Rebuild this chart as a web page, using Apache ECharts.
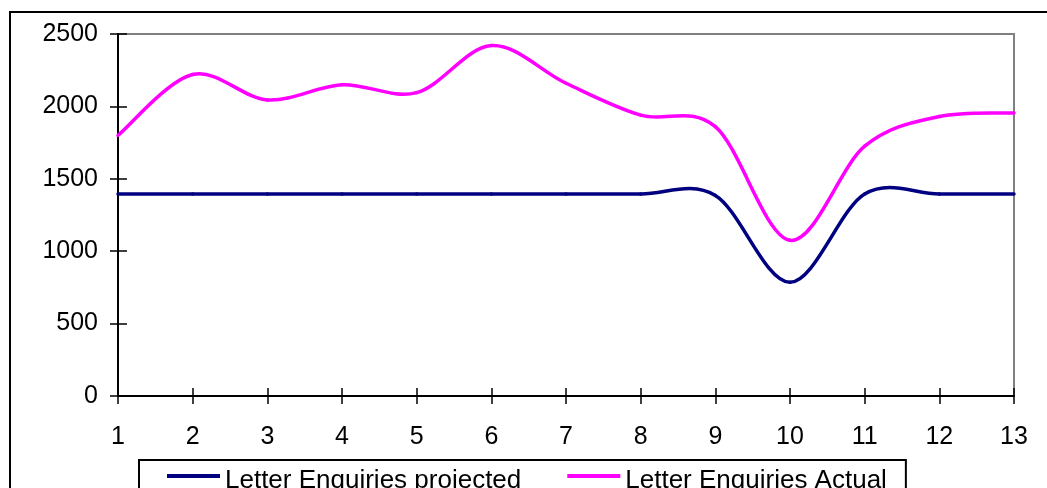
<!DOCTYPE html>
<html>
<head>
<meta charset="utf-8">
<script src="https://cdn.jsdelivr.net/npm/echarts@6/dist/echarts.min.js"></script>
<style>
    html, body { margin: 0; padding: 0; background: #fff; }
    #main { width: 1047px; height: 488px; }
</style>
</head>
<body>
<div id="main"></div>
<script>
const weeks = ['1', '2', '3', '4', '5', '6', '7', '8', '9', '10', '11', '12', '13'];
const projected = [1395, 1395, 1395, 1395, 1395, 1395, 1395, 1395, 1385, 785, 1395, 1395, 1395];
const actual = [1800, 2220, 2045, 2150, 2095, 2420, 2160, 1940, 1860, 1075, 1725, 1930, 1955];
const yTicks = [0, 500, 1000, 1500, 2000, 2500];
const names = ['Letter Enquiries projected', 'Letter Enquiries Actual'];

const font = 'Liberation Sans, Arial, sans-serif';
const box = document.getElementById('main');
const myChart = echarts.init(box);

// excel style smoothed line: one bezier per segment, control points from neighbours
function smoothSegment(values, color) {
    return function (params, api) {
        const i = params.dataIndex;
        const n = values.length;
        if (i >= n - 1) return null;
        const p0 = api.coord([Math.max(i - 1, 0), values[Math.max(i - 1, 0)]]);
        const p1 = api.coord([i, values[i]]);
        const p2 = api.coord([i + 1, values[i + 1]]);
        const p3 = api.coord([Math.min(i + 2, n - 1), values[Math.min(i + 2, n - 1)]]);
        return {
            type: 'bezierCurve',
            shape: {
                x1: p1[0], y1: p1[1],
                x2: p2[0], y2: p2[1],
                cpx1: p1[0] + (p2[0] - p0[0]) / 6,
                cpy1: p1[1] + (p2[1] - p0[1]) / 6,
                cpx2: p2[0] - (p3[0] - p1[0]) / 6,
                cpy2: p2[1] - (p3[1] - p1[1]) / 6
            },
            style: { stroke: color, lineWidth: 3.5, fill: null, lineCap: 'round' }
        };
    };
}

// two legends with the same layout: one for box + line samples, one for the (slightly lower) text
const legendBase = {
    left: 139,
    data: names,
    icon: 'rect',
    itemWidth: 53,
    itemHeight: 4,
    itemGap: 46,
    itemTextGap: 8,
    padding: [3, 19, 20, 28],
    selectedMode: false
};

let option = {
    animation: false,
    backgroundColor: '#fff',
    textStyle: { fontFamily: font },
    graphic: [
        {
            type: 'rect',
            shape: { x: 10, y: 12, width: 1200, height: 700 },
            style: { fill: 'none', stroke: '#000', lineWidth: 2 },
            z: -1
        }
    ],
    grid: {
        left: 118,
        right: 33,
        top: 34,
        bottom: 92,
        show: true,
        borderColor: '#808080',
        borderWidth: 2
    },
    legend: [
        Object.assign({}, legendBase, {
            top: 460,
            borderColor: '#000',
            borderWidth: 2,
            textStyle: { fontSize: 26, color: 'rgba(0,0,0,0)', fontFamily: font }
        }),
        Object.assign({}, legendBase, {
            top: 465,
            borderWidth: 0,
            itemStyle: { color: 'rgba(0,0,0,0)', opacity: 0 },
            textStyle: { fontSize: 26, color: '#000', fontFamily: font }
        })
    ],
    xAxis: [
        {
            type: 'category',
            data: weeks,
            boundaryGap: false,
            axisLine: { lineStyle: { color: '#000', width: 2 } },
            axisTick: { show: true, length: 8, lineStyle: { color: '#000', width: 1.5 } },
            axisLabel: { fontSize: 25, color: '#000', margin: 29, fontFamily: font },
            splitLine: { show: false }
        },
        {
            type: 'category',
            data: weeks,
            boundaryGap: false,
            position: 'bottom',
            axisLine: { show: false },
            axisTick: { show: true, inside: true, length: 8, lineStyle: { color: '#000', width: 1.5 } },
            axisLabel: { show: false },
            splitLine: { show: false }
        }
    ],
    yAxis: [
        {
            type: 'value',
            min: yTicks[0],
            max: yTicks[yTicks.length - 1],
            interval: 500,
            axisLine: { show: true, lineStyle: { color: '#000', width: 2 } },
            axisTick: { show: true, length: 8, lineStyle: { color: '#000', width: 1.5 } },
            axisLabel: {
                fontSize: 25, color: '#000', margin: 20, fontFamily: font,
                formatter: function (v) { return String(v); }
            },
            splitLine: { show: false }
        },
        {
            type: 'value',
            min: yTicks[0],
            max: yTicks[yTicks.length - 1],
            interval: 500,
            position: 'left',
            axisLine: { show: false },
            axisTick: { show: true, inside: true, length: 9, lineStyle: { color: '#000', width: 1.5 } },
            axisLabel: { show: false },
            splitLine: { show: false }
        }
    ],
    series: [
        {
            name: names[0],
            type: 'custom',
            data: projected.map((v, i) => [i, v]),
            encode: { x: 0, y: 1 },
            itemStyle: { color: '#000080' },
            renderItem: smoothSegment(projected, '#000080')
        },
        {
            name: names[1],
            type: 'custom',
            data: actual.map((v, i) => [i, v]),
            encode: { x: 0, y: 1 },
            itemStyle: { color: '#FF00FF' },
            renderItem: smoothSegment(actual, '#FF00FF')
        }
    ]
};
myChart.setOption(option);
</script>
</body>
</html>
